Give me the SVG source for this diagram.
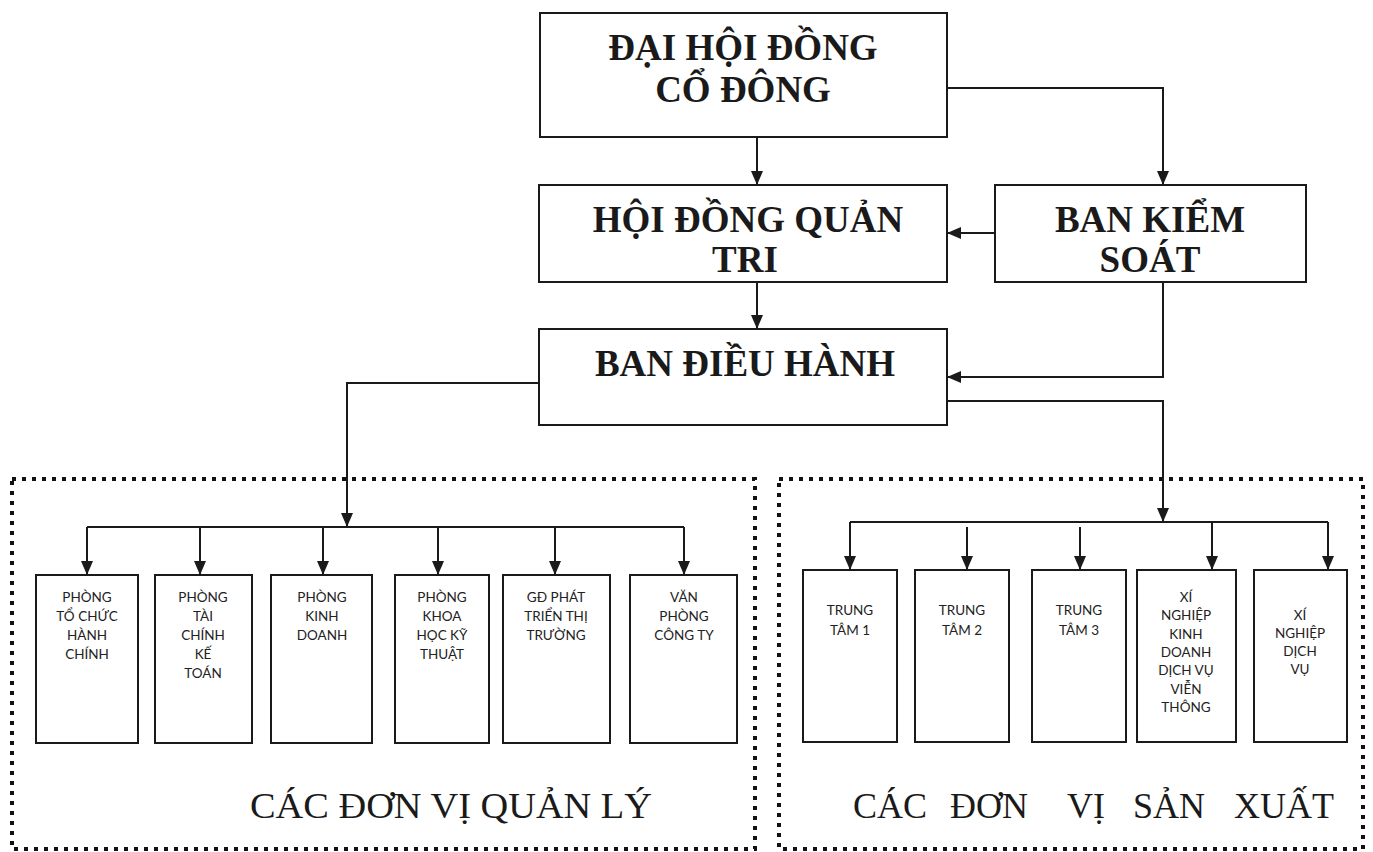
<svg xmlns="http://www.w3.org/2000/svg" width="1373" height="852" viewBox="0 0 1373 852">
<defs>
<marker id="ah" viewBox="0 0 14 12" refX="14" refY="6" markerWidth="14" markerHeight="12" markerUnits="userSpaceOnUse" orient="auto">
<path d="M0,0 L14,6 L0,12 Z" fill="#1a1a1a"/>
</marker>
<style>
.box{fill:#fff;stroke:#1a1a1a;stroke-width:2}
.big{font-family:"Liberation Serif","Times New Roman",serif;font-weight:bold;font-size:37px;fill:#1a1a1a;text-anchor:middle}
.sm{font-family:Lato,"Liberation Sans",sans-serif;font-size:13.5px;fill:#222;text-anchor:middle}
.lbl{font-family:"Liberation Serif","Times New Roman",serif;font-size:36px;fill:#1a1a1a}
.ln{fill:none;stroke:#1a1a1a;stroke-width:2}
.arr{fill:none;stroke:#1a1a1a;stroke-width:2;marker-end:url(#ah)}
.dot{fill:none;stroke:#111;stroke-width:4;stroke-dasharray:4 6}
</style>
</defs>
<rect width="1373" height="852" fill="#fff"/>

<g id="groups">
<rect class="dot" x="12" y="479" width="743" height="370"/>
<rect class="dot" x="779" y="479" width="584" height="370"/>
<text class="lbl" x="451" y="818" text-anchor="middle" textLength="402" lengthAdjust="spacingAndGlyphs">CÁC ĐƠN VỊ QUẢN LÝ</text>
<text class="lbl" y="818"><tspan x="853">CÁC</tspan><tspan x="950">ĐƠN</tspan><tspan x="1067">VỊ</tspan><tspan x="1133">SẢN</tspan><tspan x="1234">XUẤT</tspan></text>
</g>

<g id="connectors">
<path class="arr" d="M757,137 V185"/>
<path class="arr" d="M947,88 H1163 V185"/>
<path class="arr" d="M995,233 H947"/>
<path class="arr" d="M757,282 V329"/>
<path class="arr" d="M1163,282 V377 H947"/>
<path class="arr" d="M539,383 H347 V527"/>
<path class="ln" d="M87,527 H684"/>
<path class="arr" d="M87,527 V575"/>
<path class="arr" d="M200,527 V575"/>
<path class="arr" d="M323,527 V575"/>
<path class="arr" d="M438,527 V575"/>
<path class="arr" d="M555,527 V575"/>
<path class="arr" d="M684,527 V575"/>
<path class="arr" d="M947,401 H1163 V522"/>
<path class="ln" d="M850,522 H1328"/>
<path class="arr" d="M850,522 V570"/>
<path class="arr" d="M967,527 V570"/>
<path class="arr" d="M1080,527 V570"/>
<path class="arr" d="M1212,522 V570"/>
<path class="arr" d="M1328,522 V570"/>
</g>

<g id="dhdcd">
<rect class="box" x="540" y="13" width="407" height="124"/>
<text class="big" x="743" y="60">ĐẠI HỘI ĐỒNG</text>
<text class="big" x="743" y="102">CỔ ĐÔNG</text>
</g>
<g id="hdqt">
<rect class="box" x="539" y="185" width="408" height="97"/>
<text class="big" x="748" y="232">HỘI ĐỒNG QUẢN</text>
<text class="big" x="745" y="272">TRI</text>
</g>
<g id="bks">
<rect class="box" x="995" y="185" width="311" height="97"/>
<text class="big" x="1150" y="232">BAN KIỂM</text>
<text class="big" x="1150" y="272">SOÁT</text>
</g>
<g id="bdh">
<rect class="box" x="539" y="329" width="408" height="96"/>
<text class="big" x="745" y="376">BAN ĐIỀU HÀNH</text>
</g>

<g id="p1"><rect class="box" x="36" y="575" width="102" height="168"/>
<text class="sm" x="87" y="602">PHÒNG<tspan x="87" dy="19">TỔ CHỨC</tspan><tspan x="87" dy="19">HÀNH</tspan><tspan x="87" dy="19">CHÍNH</tspan></text></g>
<g id="p2"><rect class="box" x="155" y="575" width="97" height="168"/>
<text class="sm" x="203" y="602">PHÒNG<tspan x="203" dy="19">TÀI</tspan><tspan x="203" dy="19">CHÍNH</tspan><tspan x="203" dy="19">KẾ</tspan><tspan x="203" dy="19">TOÁN</tspan></text></g>
<g id="p3"><rect class="box" x="271" y="575" width="101" height="168"/>
<text class="sm" x="322" y="602">PHÒNG<tspan x="322" dy="19">KINH</tspan><tspan x="322" dy="19">DOANH</tspan></text></g>
<g id="p4"><rect class="box" x="395" y="575" width="94" height="168"/>
<text class="sm" x="442" y="602">PHÒNG<tspan x="442" dy="19">KHOA</tspan><tspan x="442" dy="19">HỌC KỸ</tspan><tspan x="442" dy="19">THUẬT</tspan></text></g>
<g id="p5"><rect class="box" x="503" y="575" width="107" height="168"/>
<text class="sm" x="556" y="602">GĐ PHÁT<tspan x="556" dy="19">TRIỂN THỊ</tspan><tspan x="556" dy="19">TRƯỜNG</tspan></text></g>
<g id="p6"><rect class="box" x="630" y="575" width="107" height="168"/>
<text class="sm" x="684" y="602">VĂN<tspan x="684" dy="19">PHÒNG</tspan><tspan x="684" dy="19">CÔNG TY</tspan></text></g>

<g id="t1"><rect class="box" x="803" y="570" width="94" height="172"/>
<text class="sm" x="850" y="615">TRUNG<tspan x="850" dy="20">TÂM 1</tspan></text></g>
<g id="t2"><rect class="box" x="915" y="570" width="94" height="172"/>
<text class="sm" x="962" y="615">TRUNG<tspan x="962" dy="20">TÂM 2</tspan></text></g>
<g id="t3"><rect class="box" x="1032" y="570" width="94" height="172"/>
<text class="sm" x="1079" y="615">TRUNG<tspan x="1079" dy="20">TÂM 3</tspan></text></g>
<g id="xn1"><rect class="box" x="1137" y="570" width="99" height="172"/>
<text class="sm" x="1186" y="602">XÍ<tspan x="1186" dy="18.3">NGHIỆP</tspan><tspan x="1186" dy="18.3">KINH</tspan><tspan x="1186" dy="18.3">DOANH</tspan><tspan x="1186" dy="18.3">DỊCH VỤ</tspan><tspan x="1186" dy="18.3">VIỄN</tspan><tspan x="1186" dy="18.3">THÔNG</tspan></text></g>
<g id="xn2"><rect class="box" x="1254" y="570" width="93" height="172"/>
<text class="sm" x="1300" y="620">XÍ<tspan x="1300" dy="18">NGHIỆP</tspan><tspan x="1300" dy="18">DỊCH</tspan><tspan x="1300" dy="18">VỤ</tspan></text></g>
</svg>
